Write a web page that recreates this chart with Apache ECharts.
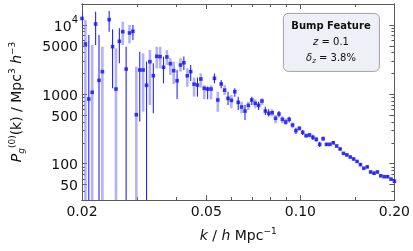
<!DOCTYPE html>
<html>
<head>
<meta charset="utf-8">
<script src="https://cdn.jsdelivr.net/npm/echarts@6/dist/echarts.min.js"></script>
<style>html,body{margin:0;padding:0;background:#fff;}#c{width:413px;height:251px;}</style>
</head>
<body>
<div id="c"></div>
<script>
// k values (h/Mpc)
const kValues = [0.02000,0.02051,0.02103,0.02156,0.02211,0.02267,0.02324,0.02383,0.02443,0.02505,
0.02569,0.02634,0.02701,0.02769,0.02839,0.02911,0.02985,0.03061,0.03138,0.03218,
0.03299,0.03383,0.03469,0.03556,0.03647,0.03739,0.03834,0.03931,0.04031,0.04133,
0.04237,0.04345,0.04455,0.04568,0.04684,0.04802,0.04924,0.05049,0.05177,0.05308,
0.05442,0.05580,0.05722,0.05867,0.06015,0.06168,0.06324,0.06485,0.06649,0.06817,
0.06990,0.07167,0.07349,0.07535,0.07726,0.07922,0.08123,0.08329,0.08540,0.08756,
0.08978,0.09206,0.09439,0.09678,0.09923,0.10175,0.10433,0.10697,0.10968,0.11246,
0.11531,0.11823,0.12123,0.12430,0.12745,0.13068,0.13399,0.13739,0.14087,0.14444,
0.14810,0.15186,0.15570,0.15965,0.16370,0.16785,0.17210,0.17646,0.18093,0.18552,
0.19022,0.19504,0.20000];
// P_g^(0)(k)
const pValues = [12400,5300,855,1070,10300,1590,2120,null,11900,4850,
1190,5800,7980,2310,7640,8090,508,2240,2240,1350,
2950,1850,3530,3490,2450,3450,2760,2190,1570,2640,
2850,1850,2120,1400,1360,1660,1220,1190,1190,1700,
828,1410,1150,875,818,1090,766,656,574,693,
828,741,693,800,574,532,543,451,520,436,
399,436,361,299,324,283,253,259,240,224,
190,229,190,190,200,180,163,141,134,125,
117,108,97,86,90,76,73,76,67,65,
65,60,56];
// error bar ends (1 = extends below the plot)
const errLow = [9000,1,1,1,5130,1,1,null,7980,1220,
1,2800,5130,1,5430,6060,1,404,562,1,
700,533,2370,2370,1440,2640,1900,1410,857,2120,
2240,1290,1560,925,925,1250,850,850,850,1440,
561,1220,980,700,628,920,595,532,427,595,
700,628,595,700,504,475,483,382,466,382,
361,392,324,268,299,259,237,240,220,205,
174,212,181,181,190,171,155,134,127,119,
111,103,92,82,86,72,69,72,64,62,
62,57,53];
const errHigh = [16000,11800,7150,5130,15500,7150,4850,null,15800,8630,
4600,8930,11100,4850,9960,9960,2500,4110,3900,2950,
4350,2790,4850,4850,3490,4350,3300,2950,2240,3300,
3490,2370,2640,1740,1740,2000,1350,1300,1350,2000,
1090,1610,1360,1090,980,1220,920,782,700,782,
920,847,782,875,663,607,607,504,574,483,
451,475,392,330,344,307,272,280,262,245,
208,248,200,200,210,189,171,148,141,131,
123,113,102,90,94,80,77,80,70,68,
68,63,59];
// 0 = dark error bar, 1 = light error bar
const barKind = [0,1,0,1,0,0,1,0,0,0,
1,0,1,0,1,0,1,0,1,0,
1,0,1,1,0,1,1,1,0,1,
0,1,0,1,0,1,1,0,1,0,
1,0,1,0,1,0,0,1,0,1,
0,1,0,1,0,0,1,1,0,1,
1,0,1,0,1,0,1,1,0,1,
0,1,0,1,0,1,0,1,0,1,
0,1,0,1,0,1,0,1,0,1,
0,1,0];
const xMajorTicks = [0.02,0.05,0.10,0.20];
const xMinorTicks = [0.03,0.04,0.06,0.07,0.08,0.09,0.15];
const yMajorTicks = [50,100,500,1000,5000,10000];
const yMinorTicks = [40,60,70,80,90,200,300,400,600,700,800,900,2000,3000,4000,6000,7000,8000,9000];

const LOG = Math.log10;
const FONT = 'DejaVu Sans';
const FRAME = '#5a5a5a';
const xMin = LOG(0.02), xMax = LOG(0.2);
const yMin = LOG(30), yMax = LOG(20000);

const richBase = {
  n: {fontFamily: FONT, fontSize: 14, color: '#111', lineHeight: 18, verticalAlign: 'middle'},
  i: {fontFamily: FONT, fontSize: 14, color: '#111', fontStyle: 'italic', lineHeight: 18, verticalAlign: 'middle'},
  sup: {fontFamily: FONT, fontSize: 9, color: '#111', lineHeight: 18, verticalAlign: 'top'},
  sub: {fontFamily: FONT, fontSize: 9, color: '#111', fontStyle: 'italic', lineHeight: 18, verticalAlign: 'bottom'}
};

function xAxisDef(pos, ticks, len, labels, withName) {
  const a = {
    type: 'value', min: xMin, max: xMax, position: pos, gridIndex: 0,
    axisLine: {show: true, onZero: false, lineStyle: {color: FRAME, width: 1}},
    axisTick: {show: true, inside: true, length: len, lineStyle: {color: FRAME, width: 1}, customValues: ticks.map(LOG)},
    axisLabel: labels ? {show: true, customValues: ticks.map(LOG), formatter: v => Math.pow(10, v).toFixed(2),
      fontFamily: FONT, fontSize: 14, color: '#111', margin: 5} : {show: false},
    splitLine: {show: false}
  };
  if (withName) {
    a.name = '{i|k}{n| / }{i|h}{n| Mpc}{sup|\u22121}';
    a.nameLocation = 'middle';
    a.nameGap = 27;
    a.nameTextStyle = {rich: richBase};
  }
  return a;
}
function yAxisDef(pos, ticks, len, labels, withName) {
  const a = {
    type: 'value', min: yMin, max: yMax, position: pos, gridIndex: 0,
    axisLine: {show: true, onZero: false, lineStyle: {color: FRAME, width: 1}},
    axisTick: {show: true, inside: true, length: len, lineStyle: {color: FRAME, width: 1}, customValues: ticks.map(LOG)},
    axisLabel: labels ? {show: true, customValues: ticks.map(LOG),
      formatter: v => { const val = Math.round(Math.pow(10, v)); return val === 10000 ? '{n|10}{s|4}' : '{n|' + val + '}'; },
      margin: 4,
      rich: {n: {fontFamily: FONT, fontSize: 14, color: '#111', lineHeight: 18, verticalAlign: 'bottom'},
             s: {fontFamily: FONT, fontSize: 10, color: '#111', lineHeight: 18, verticalAlign: 'top'}}} : {show: false},
    splitLine: {show: false}
  };
  if (withName) {
    a.name = '{i|P}{sub|g}{sup|(0)}{n|(k) / Mpc}{sup|3}{n| }{i|h}{sup|\u22123}';
    a.nameLocation = 'middle';
    a.nameGap = 56;
    a.nameTextStyle = {rich: richBase};
  }
  return a;
}

const darkBars = [], lightBars = [], points = [];
for (let i = 0; i < kValues.length; i++) {
  if (pValues[i] == null) continue;
  points.push([LOG(kValues[i]), LOG(pValues[i])]);
  const item = [LOG(kValues[i]), LOG(errLow[i]), LOG(errHigh[i])];
  (barKind[i] ? lightBars : darkBars).push(item);
}

function barRenderer(color, width) {
  return function (params, api) {
    const p1 = api.coord([api.value(0), api.value(1)]);
    const p2 = api.coord([api.value(0), api.value(2)]);
    const cs = params.coordSys;
    const clamp = y => Math.min(Math.max(y, cs.y), cs.y + cs.height);
    return {type: 'line', shape: {x1: p1[0], y1: clamp(p1[1]), x2: p1[0], y2: clamp(p2[1])},
      style: {stroke: color, lineWidth: width}};
  };
}

const chart = echarts.init(document.getElementById('c'), null, {renderer: 'canvas'});
chart.setOption({
  backgroundColor: '#ffffff',
  animation: false,
  grid: {left: 76, right: 18, top: 4, bottom: 51, containLabel: false},
  xAxis: [
    xAxisDef('bottom', xMajorTicks, 5, true, true),
    xAxisDef('bottom', xMinorTicks, 3, false, false),
    xAxisDef('top', xMajorTicks, 5, false, false),
    xAxisDef('top', xMinorTicks, 3, false, false)
  ],
  yAxis: [
    yAxisDef('left', yMajorTicks, 5, true, true),
    yAxisDef('left', yMinorTicks, 3, false, false),
    yAxisDef('right', yMajorTicks, 5, false, false),
    yAxisDef('right', yMinorTicks, 3, false, false)
  ],
  series: [
    {type: 'custom', xAxisIndex: 0, yAxisIndex: 0, data: lightBars, encode: {x: 0, y: [1, 2]},
      renderItem: barRenderer('rgba(125,125,250,0.6)', 2.6), z: 2, clip: true},
    {type: 'custom', xAxisIndex: 0, yAxisIndex: 0, data: darkBars, encode: {x: 0, y: [1, 2]},
      renderItem: barRenderer('#2424ff', 1.1), z: 3, clip: true},
    {type: 'scatter', xAxisIndex: 0, yAxisIndex: 0, data: points, symbol: 'rect', symbolSize: 3.6,
      itemStyle: {color: '#1010f5'}, z: 4, clip: true}
  ],
  graphic: [
    {type: 'rect', left: 283, top: 13, shape: {width: 96, height: 58, r: 5},
      style: {fill: '#efeff8', stroke: '#8c8c8c', lineWidth: 0.8}, z: 10},
    {type: 'text', x: 331, y: 26, z: 11, style: {text: 'Bump Feature', align: 'center', verticalAlign: 'middle',
      font: 'bold 10px "DejaVu Sans"', fill: '#111'}},
    {type: 'text', x: 331, y: 42, z: 11, style: {text: '{i|z}{n| = 0.1}', align: 'center', verticalAlign: 'middle',
      rich: {i: {fontFamily: FONT, fontSize: 10, fontStyle: 'italic', fill: '#111'}, n: {fontFamily: FONT, fontSize: 10, fill: '#111'}}}},
    {type: 'text', x: 331, y: 58, z: 11, style: {text: '{i|\u03b4}{s|z}{n| = 3.8%}', align: 'center', verticalAlign: 'middle',
      rich: {i: {fontFamily: FONT, fontSize: 10, fontStyle: 'italic', fill: '#111', lineHeight: 14, verticalAlign: 'middle'},
             s: {fontFamily: FONT, fontSize: 7, fontStyle: 'italic', fill: '#111', lineHeight: 14, verticalAlign: 'bottom'},
             n: {fontFamily: FONT, fontSize: 10, fill: '#111', lineHeight: 14, verticalAlign: 'middle'}}}}
  ]
});
</script>
</body>
</html>
